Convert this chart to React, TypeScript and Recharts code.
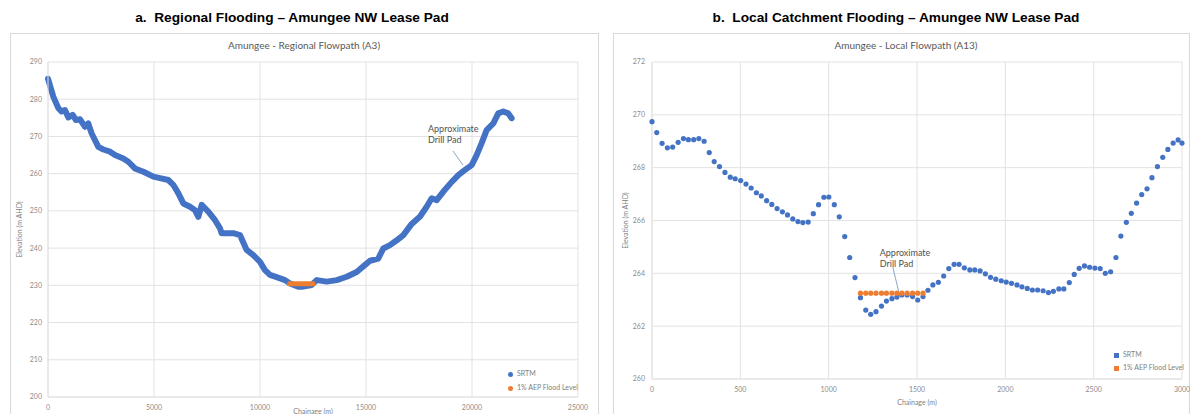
import { LineChart, Line, ScatterChart, Scatter, XAxis, YAxis, CartesianGrid, Legend, ReferenceLine, ReferenceDot } from 'recharts'

// a. Regional flowpath (A3) - SRTM profile
const regionalChainage = [
  0, 250, 487, 645, 800, 960, 1165, 1320, 1510, 1745, 1900, 2060, 2375, 2610, 2925, 3160, 3550, 3790, 4100, 4500,
  4970, 5280, 5675, 5910, 6150, 6385, 6700, 6935, 7090, 7250, 7560, 7880, 8115, 8190, 8430, 8740, 9055, 9370, 9685, 10000,
  10235, 10470, 10785, 11180, 11415, 11810, 11965, 12440, 12675, 13145, 13620, 14090, 14560, 14955, 15190, 15580, 15815, 16130, 16450, 16760,
  17155, 17550, 17860, 18100, 18335, 18650, 19045, 19355, 19670, 19985, 20220, 20455, 20690, 21005, 21240, 21475, 21710, 21870,
]
const regionalElevation = [
  285.5, 280.7, 277.6, 276.7, 277.1, 275.1, 275.8, 274.4, 274.6, 272.6, 273.5, 270.8, 267.2, 266.5, 265.9, 265.0, 264.1, 263.2, 261.4, 260.5,
  259.2, 258.8, 258.3, 257.0, 254.7, 252.0, 251.1, 250.2, 248.4, 251.6, 249.8, 247.5, 245.3, 244.0, 244.0, 244.0, 243.5, 239.5, 238.1, 236.3,
  234.1, 232.8, 232.2, 231.4, 230.5, 229.6, 229.6, 230.1, 231.4, 231.0, 231.4, 232.3, 233.6, 235.5, 236.6, 237.2, 239.9, 240.8, 242.1, 243.5,
  246.5, 248.5, 251.1, 253.4, 252.9, 255.2, 257.8, 259.6, 261.0, 262.3, 265.0, 268.2, 271.7, 273.5, 276.2, 276.7, 276.2, 274.9,
]
const regionalFloodChainage = [11400, 12500]
const regionalFloodLevel = [230.4, 230.4]
const regionalXTicks = [0, 5000, 10000, 15000, 20000, 25000]
const regionalYTicks = [200, 210, 220, 230, 240, 250, 260, 270, 280, 290]

// b. Local flowpath (A13)
const localChainage = [
  0, 27, 57, 87, 117, 148, 178, 206, 236, 265, 295, 324, 352, 382, 413, 443, 471, 502, 532, 561,
  591, 619, 649, 678, 708, 738, 767, 797, 826, 854, 884, 913, 943, 973, 1001, 1032, 1060, 1091, 1119, 1149,
  1180, 1210, 1238, 1268, 1299, 1327, 1358, 1386, 1414, 1444, 1475, 1504, 1534, 1562, 1590, 1621, 1651, 1680, 1710, 1738,
  1768, 1799, 1827, 1857, 1887, 1916, 1946, 1977, 2005, 2035, 2066, 2094, 2124, 2153, 2183, 2214, 2244, 2272, 2303, 2331,
  2362, 2390, 2418, 2448, 2477, 2507, 2537, 2566, 2596, 2626, 2654, 2685, 2713, 2743, 2772, 2802, 2830, 2861, 2891, 2920,
  2950, 2978, 3000,
]
const localElevation = [
  269.74, 269.33, 268.92, 268.75, 268.78, 268.96, 269.1, 269.06, 269.06, 269.1, 269.0, 268.57, 268.23, 268.04, 267.82, 267.64, 267.58, 267.51, 267.38, 267.23,
  267.05, 266.93, 266.75, 266.61, 266.45, 266.33, 266.21, 266.06, 265.96, 265.92, 265.94, 266.26, 266.6, 266.88, 266.89, 266.6, 266.14, 265.39, 264.6, 263.84,
  263.08, 262.61, 262.45, 262.55, 262.76, 262.95, 263.04, 263.1, 263.18, 263.18, 263.12, 262.99, 263.12, 263.36, 263.56, 263.66, 263.9, 264.18, 264.34, 264.34,
  264.21, 264.13, 264.13, 264.09, 263.98, 263.85, 263.78, 263.72, 263.67, 263.62, 263.56, 263.49, 263.43, 263.37, 263.37, 263.34, 263.27, 263.32, 263.41, 263.41,
  263.65, 263.96, 264.19, 264.28, 264.23, 264.2, 264.18, 264.0, 264.06, 264.6, 265.41, 265.93, 266.27, 266.66, 266.98, 267.2, 267.62, 268.04, 268.39, 268.69,
  268.93, 269.05, 268.93,
]
const localFloodChainage = [1180, 1210, 1238, 1268, 1299, 1327, 1358, 1386, 1414, 1444, 1475, 1504, 1534]
const localFloodLevel = [263.25, 263.25, 263.25, 263.25, 263.25, 263.25, 263.25, 263.25, 263.25, 263.25, 263.25, 263.25, 263.25]
const localXTicks = [0, 500, 1000, 1500, 2000, 2500, 3000]
const localYTicks = [260, 262, 264, 266, 268, 270, 272]

const toRows = (xs: number[], ys: number[]) => xs.map((x, i) => ({ x, y: ys[i] }))

const BLUE = '#4472C4'
const ORANGE = '#ED7D31'
const GRID = '#e2e2e2'
const TICK = { fontSize: 7, fill: '#8c8c8c' }
const chartFont = 'Lato, "Open Sans", sans-serif'

const note = (props: any) => {
  const vb = props.viewBox || { x: 0, y: 0 }
  return (
    <text x={vb.x} y={vb.y} fontSize={9} fill="#505050" fontFamily={chartFont}>
      <tspan x={vb.x} dy={0}>Approximate</tspan>
      <tspan x={vb.x} dy={11}>Drill Pad</tspan>
    </text>
  )
}

const dotShape = (color: string) => (p: any) => <circle cx={p.cx} cy={p.cy} r={2.6} fill={color} />

const legendText = (value: string) => <span style={{ color: '#7f7f7f' }}>{value}</span>
const legendOrder = (item: any) => (item.value === 'SRTM' ? 0 : 1)

function RegionalChart() {
  return (
    <LineChart width={588} height={381} margin={{ top: 29, right: 20, bottom: 0, left: 0 }} style={{ fontFamily: chartFont }}>
      <CartesianGrid stroke={GRID} />
      <XAxis
        type="number"
        dataKey="x"
        domain={[0, 25000]}
        ticks={regionalXTicks}
        height={17}
        tickLine={false}
        axisLine={{ stroke: GRID }}
        tick={TICK}
        label={{ value: 'Chainage (m)', position: 'insideBottom', offset: 0, fontSize: 7, fill: '#7f7f7f' }}
      />
      <YAxis
        type="number"
        domain={[200, 290]}
        ticks={regionalYTicks}
        width={38}
        tickLine={false}
        tickSize={4}
        axisLine={{ stroke: GRID }}
        tick={TICK}
        label={{ value: 'Elevation (m AHD)', angle: -90, position: 'insideLeft', offset: 10, fontSize: 7, fill: '#7f7f7f', style: { textAnchor: 'middle' } }}
      />
      <Line
        name="SRTM"
        data={toRows(regionalChainage, regionalElevation)}
        dataKey="y"
        stroke={BLUE}
        strokeWidth={6}
        strokeLinejoin="round"
        strokeLinecap="round"
        dot={false}
        legendType="circle"
        isAnimationActive={false}
      />
      <Line
        name="1% AEP Flood Level"
        data={toRows(regionalFloodChainage, regionalFloodLevel)}
        dataKey="y"
        stroke={ORANGE}
        strokeWidth={5}
        strokeLinecap="round"
        dot={false}
        legendType="circle"
        isAnimationActive={false}
      />
      <ReferenceLine segment={[{ x: 19100, y: 266.1 }, { x: 19575, y: 262.3 }]} stroke="#6f8fb8" strokeWidth={0.8} />
      <ReferenceDot x={17925} y={271.2} r={0} stroke="none" label={note} />
      <Legend
        layout="vertical"
        align="center"
        verticalAlign="middle"
        iconSize={5}
        formatter={legendText}
        itemSorter={legendOrder}
        wrapperStyle={{ left: 498, top: 333, width: 90, fontSize: 7, lineHeight: '14px' }}
      />
    </LineChart>
  )
}

function LocalChart() {
  return (
    <ScatterChart width={577} height={381} margin={{ top: 29, right: 8, bottom: 0, left: 0 }} style={{ fontFamily: chartFont }}>
      <CartesianGrid stroke={GRID} />
      <XAxis
        type="number"
        dataKey="x"
        domain={[0, 3000]}
        ticks={localXTicks}
        height={35}
        tickLine={false}
        axisLine={{ stroke: GRID }}
        tick={TICK}
        label={{ value: 'Chainage (m)', position: 'insideBottom', offset: 9, fontSize: 7, fill: '#7f7f7f' }}
      />
      <YAxis
        type="number"
        dataKey="y"
        domain={[260, 272]}
        ticks={localYTicks}
        width={39}
        tickLine={false}
        tickSize={5}
        axisLine={{ stroke: GRID }}
        tick={TICK}
        label={{ value: 'Elevation (m AHD)', angle: -90, position: 'insideLeft', offset: 13, fontSize: 7, fill: '#7f7f7f', style: { textAnchor: 'middle' } }}
      />
      <Scatter name="SRTM" data={toRows(localChainage, localElevation)} fill={BLUE} shape={dotShape(BLUE)} legendType="square" isAnimationActive={false} />
      <Scatter name="1% AEP Flood Level" data={toRows(localFloodChainage, localFloodLevel)} fill={ORANGE} shape={dotShape(ORANGE)} legendType="square" isAnimationActive={false} />
      <ReferenceLine segment={[{ x: 1363, y: 264.24 }, { x: 1397, y: 263.29 }]} stroke="#6f8fb8" strokeWidth={0.8} />
      <ReferenceDot x={1289} y={264.66} r={0} stroke="none" label={note} />
      <Legend
        layout="vertical"
        align="center"
        verticalAlign="middle"
        iconSize={5}
        formatter={legendText}
        itemSorter={legendOrder}
        wrapperStyle={{ left: 501, top: 315, width: 90, fontSize: 7, lineHeight: '13px' }}
      />
    </ScatterChart>
  )
}

const heading: React.CSSProperties = {
  position: 'absolute',
  top: 10,
  fontFamily: '"Liberation Sans", Arial, sans-serif',
  fontWeight: 'bold',
  fontSize: 13.7,
  color: '#000',
  textAlign: 'center',
  whiteSpace: 'nowrap',
}

const innerTitle: React.CSSProperties = {
  position: 'absolute',
  top: 39,
  fontFamily: chartFont,
  fontSize: 10,
  color: '#595959',
  textAlign: 'center',
  whiteSpace: 'nowrap',
}

export default function App() {
  return (
    <div style={{ position: 'absolute', left: 0, top: 0, width: 1191, height: 414, background: '#fff', overflow: 'hidden' }}>
      <div style={{ ...heading, left: 0, width: 584 }}>a.&nbsp;&nbsp;Regional Flooding – Amungee NW Lease Pad</div>
      <div style={{ ...heading, left: 600, width: 592 }}>b.&nbsp;&nbsp;Local Catchment Flooding – Amungee NW Lease Pad</div>

      <div style={{ position: 'absolute', left: 10, top: 33, width: 587, height: 400, border: '1px solid #d9d9d9' }} />
      <div style={{ position: 'absolute', left: 613, top: 33, width: 575, height: 400, border: '1px solid #d9d9d9' }} />

      <div style={{ ...innerTitle, left: 10, width: 588 }}>Amungee - Regional Flowpath (A3)</div>
      <div style={{ ...innerTitle, left: 613, width: 586 }}>Amungee - Local Flowpath (A13)</div>

      <div style={{ position: 'absolute', left: 10, top: 33 }}>
        <RegionalChart />
      </div>
      <div style={{ position: 'absolute', left: 613, top: 33 }}>
        <LocalChart />
      </div>
    </div>
  )
}
